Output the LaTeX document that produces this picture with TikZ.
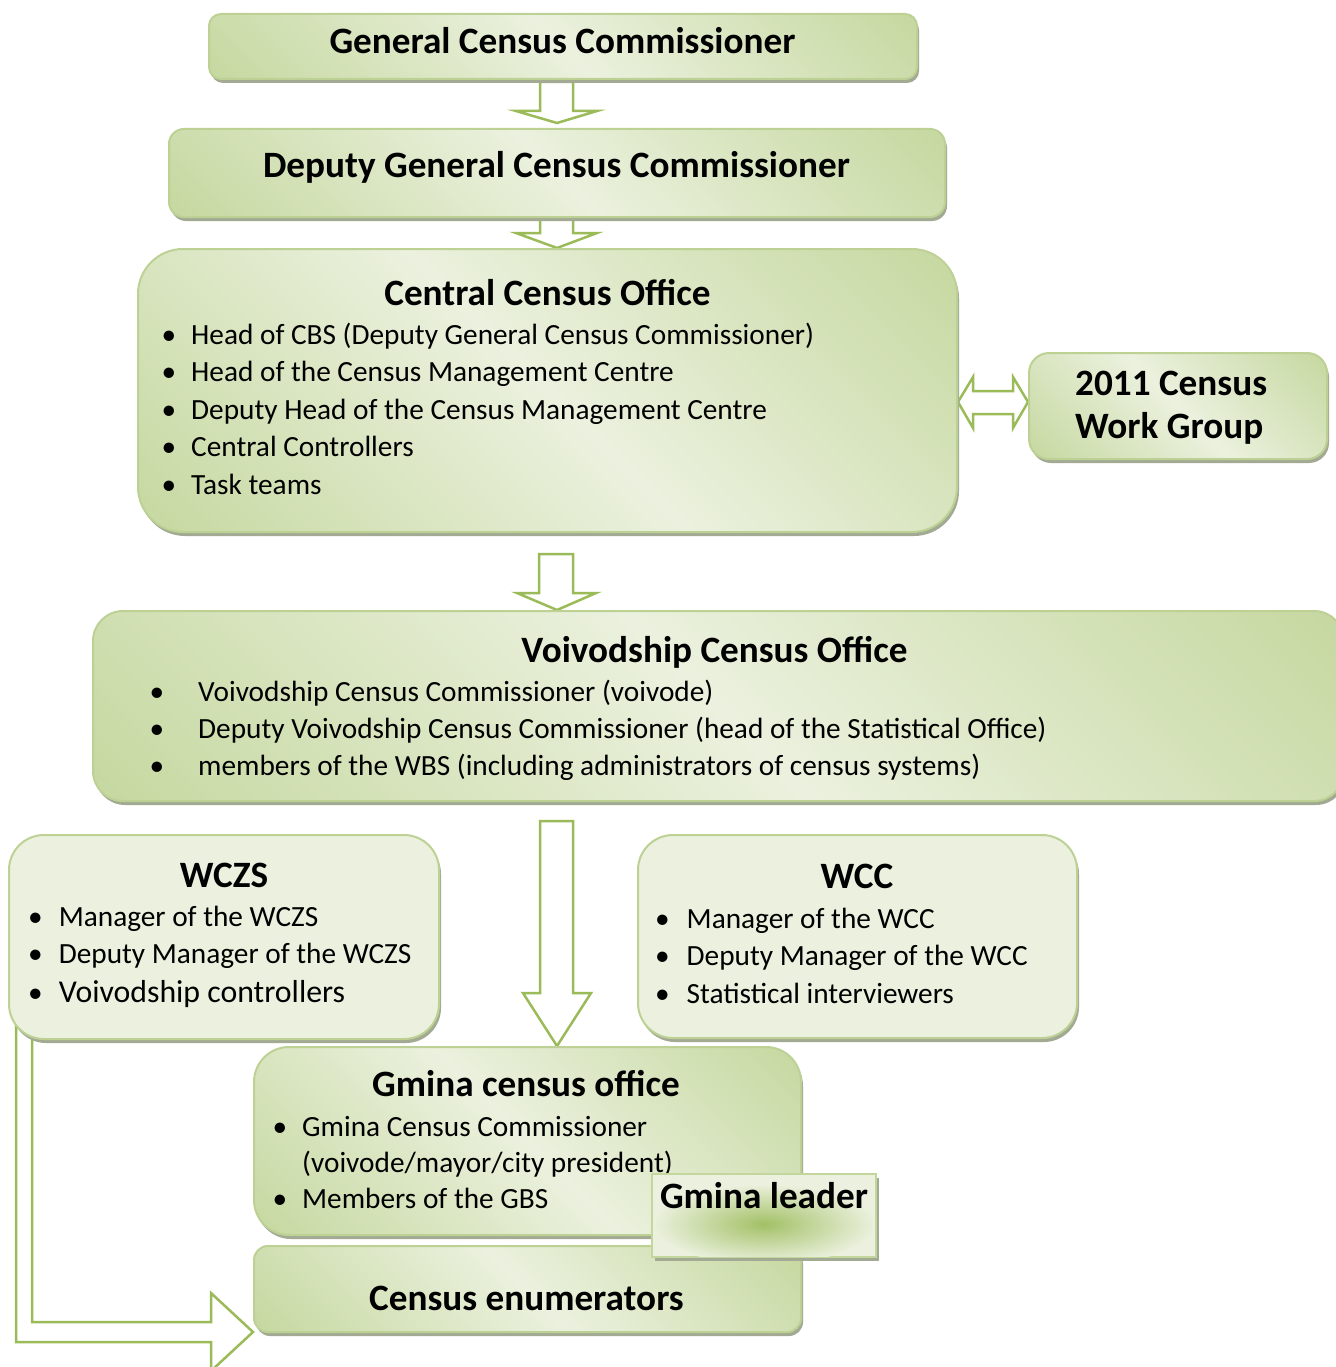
\documentclass[tikz,border=0pt]{standalone}
\usepackage{fontspec}
\setmainfont{Carlito}
\usepackage{xcolor}
\usepackage{tikz}
\usetikzlibrary{shadows,backgrounds}
\definecolor{boxlight}{HTML}{EBF1DE}
\definecolor{boxdark}{HTML}{C3D69B}
\definecolor{boxline}{HTML}{BDD195}
\definecolor{arrowgreen}{HTML}{9BBB59}
\definecolor{shadowgray}{HTML}{A3AA93}
\pgfdeclarehorizontalshading{officeshade}{100bp}{color(0bp)=(boxdark); color(12bp)=(boxdark); color(50bp)=(boxlight); color(88bp)=(boxdark); color(100bp)=(boxdark)}
\newcommand{\bl}[1]{\llap{\textbullet\hspace{#1}}}

\begin{document}
\begin{tikzpicture}[x=1pt,y=-1pt]
\tikzstyle{every node}+=[inner sep=0pt]
\tikzstyle{gbox}=[draw=boxline, line width=2pt, shading=officeshade, shading angle=45, drop shadow={shadow xshift=2pt, shadow yshift=-4pt, fill=shadowgray, opacity=1}]
\tikzstyle{pbox}=[draw=boxline, line width=2pt, fill=boxlight, drop shadow={shadow xshift=2pt, shadow yshift=-4pt, fill=shadowgray, opacity=1}]
\tikzstyle{lbox}=[draw=boxdark, line width=2pt, fill=boxlight, drop shadow={shadow xshift=3pt, shadow yshift=-4pt, fill=shadowgray, opacity=1}]
\tikzstyle{ttl}=[font=\fontsize{37.2}{43}\selectfont\bfseries, anchor=base]
\tikzstyle{lst}=[font=\fontsize{29.3}{37.5}\selectfont, anchor=base west]
\tikzstyle{hollow}=[draw=arrowgreen, line width=2.5pt, fill=white, line join=miter]
\useasboundingbox (0,0) rectangle (1335,1367);
\node[gbox, minimum width=708pt, minimum height=65pt, rounded corners=12pt] (gcc) at (563,46.5) {};
\node[ttl] (gccT) at (562.5,54) {General Census Commissioner};
\node[gbox, minimum width=776pt, minimum height=88pt, rounded corners=15pt] (dgc) at (557,173) {};
\node[ttl] (dgcT) at (556.5,178) {Deputy General Census Commissioner};
\node[gbox, minimum width=819pt, minimum height=283pt, rounded corners=45pt] (cco) at (547.5,390.5) {};
\node[ttl] (ccoT) at (547.5,305) {Central Census Office};
\node[lst] (ccoL) at (191,344) {\begin{tabular}[t]{@{}l@{}}
\bl{15pt}Head of CBS (Deputy General Census Commissioner)\\
\bl{15pt}Head of the Census Management Centre\\
\bl{15pt}Deputy Head of the Census Management Centre\\
\bl{15pt}Central Controllers\\
\bl{15pt}Task teams
\end{tabular}};
\node[gbox, minimum width=298pt, minimum height=106pt, rounded corners=20pt] (wg) at (1178,406) {};
\node[ttl, anchor=base west, font=\fontsize{37.2}{43}\selectfont\bfseries] (wgT) at (1075,395) {\begin{tabular}[t]{@{}l@{}}2011 Census\\ Work Group\end{tabular}};
\node[gbox, minimum width=1251pt, minimum height=190pt, rounded corners=30pt] (vco) at (718.5,706) {};
\node[ttl] (vcoT) at (714.5,662) {Voivodship Census Office};
\node[lst, font=\fontsize{29.3}{37}\selectfont] (vcoL) at (198,701) {\begin{tabular}[t]{@{}l@{}}
\bl{34pt}Voivodship Census Commissioner (voivode)\\
\bl{34pt}Deputy Voivodship Census Commissioner (head of the Statistical Office)\\
\bl{34pt}members of the WBS (including administrators of census systems)
\end{tabular}};
\node[pbox, minimum width=430pt, minimum height=204pt, rounded corners=35pt] (wczs) at (224,937) {};
\node[ttl] (wczsT) at (224,887) {WCZS};
\node[lst] (wczsL) at (58.6,926) {\begin{tabular}[t]{@{}l@{}}
\bl{16pt}Manager of the WCZS\\
\bl{16pt}Deputy Manager of the WCZS\\[1.5pt]
\bl{16pt}{\fontsize{31.8}{37.5}\selectfont Voivodship controllers}
\end{tabular}};
\node[pbox, minimum width=439pt, minimum height=203pt, rounded corners=35pt] (wcc) at (857.5,936.5) {};
\node[ttl] (wccT) at (857,888) {WCC};
\node[lst] (wccL) at (686.5,928) {\begin{tabular}[t]{@{}l@{}}
\bl{17pt}Manager of the WCC\\
\bl{17pt}Deputy Manager of the WCC\\
\bl{17pt}Statistical interviewers
\end{tabular}};
\node[gbox, minimum width=547pt, minimum height=188pt, rounded corners=35pt] (gco) at (527.5,1141) {};
\node[ttl] (gcoT) at (526,1096) {Gmina census office};
\node[lst, font=\fontsize{29.3}{36}\selectfont] (gcoL) at (302,1136) {\begin{tabular}[t]{@{}l@{}}
\bl{15pt}Gmina Census Commissioner\\
(voivode/mayor/city president)\\
\bl{15pt}Members of the GBS
\end{tabular}};
\node[gbox, minimum width=547pt, minimum height=86pt, rounded corners=14pt] (ce) at (527.5,1289) {};
\node[ttl] (ceT) at (526.5,1310) {Census enumerators};
\node[lbox, minimum width=224pt, minimum height=83pt] (gl) at (764,1215.5) {};
\begin{scope}
\clip ([shift={(2pt,-2pt)}]gl.north west) rectangle ([shift={(-2pt,2pt)}]gl.south east);
\shade[inner color=arrowgreen!90!boxlight, outer color=boxlight] (764,1224) ellipse (112pt and 40pt);
\end{scope}
\node[ttl] (glT) at (764,1208) {Gmina leader};
\begin{scope}[on background layer]
\draw[hollow] (540,82) -- (540,111) -- (516,111) -- ([yshift=5pt]dgc.north) -- (597,111) -- (573,111) -- (573,82) -- cycle;
\draw[hollow] (540,0 |- dgc.center) -- (540,233) -- (516,233) -- (557,0 |- cco.north) -- (597,233) -- (573,233) -- (573,0 |- dgc.center) -- cycle;
\draw[hollow] (539,554) -- (539,593) -- (517,593) -- (557,0 |- vco.north) -- (596,593) -- (573,593) -- (573,554) -- cycle;
\draw[hollow] (540,821) -- (540,993) -- (523,993) -- (557,0 |- gco.north) -- (591,993) -- (573,993) -- (573,821) -- cycle;
\draw[hollow] (cco.east |- 0,402) -- (973,377) -- (973,391) -- (1013,391) -- (1013,377) -- (wg.west |- 0,402) -- (1013,428) -- (1013,414) -- (973,414) -- (973,428) -- cycle;
\draw[hollow] (16,0 |- wczs.center) -- (16,1342) -- (211,1342) -- (211,1371) -- (ce.west |- 0,1332) -- (211,1293) -- (211,1322) -- (32,1322) -- (32,0 |- wczs.center) -- cycle;
\end{scope}
\end{tikzpicture}
\end{document}
